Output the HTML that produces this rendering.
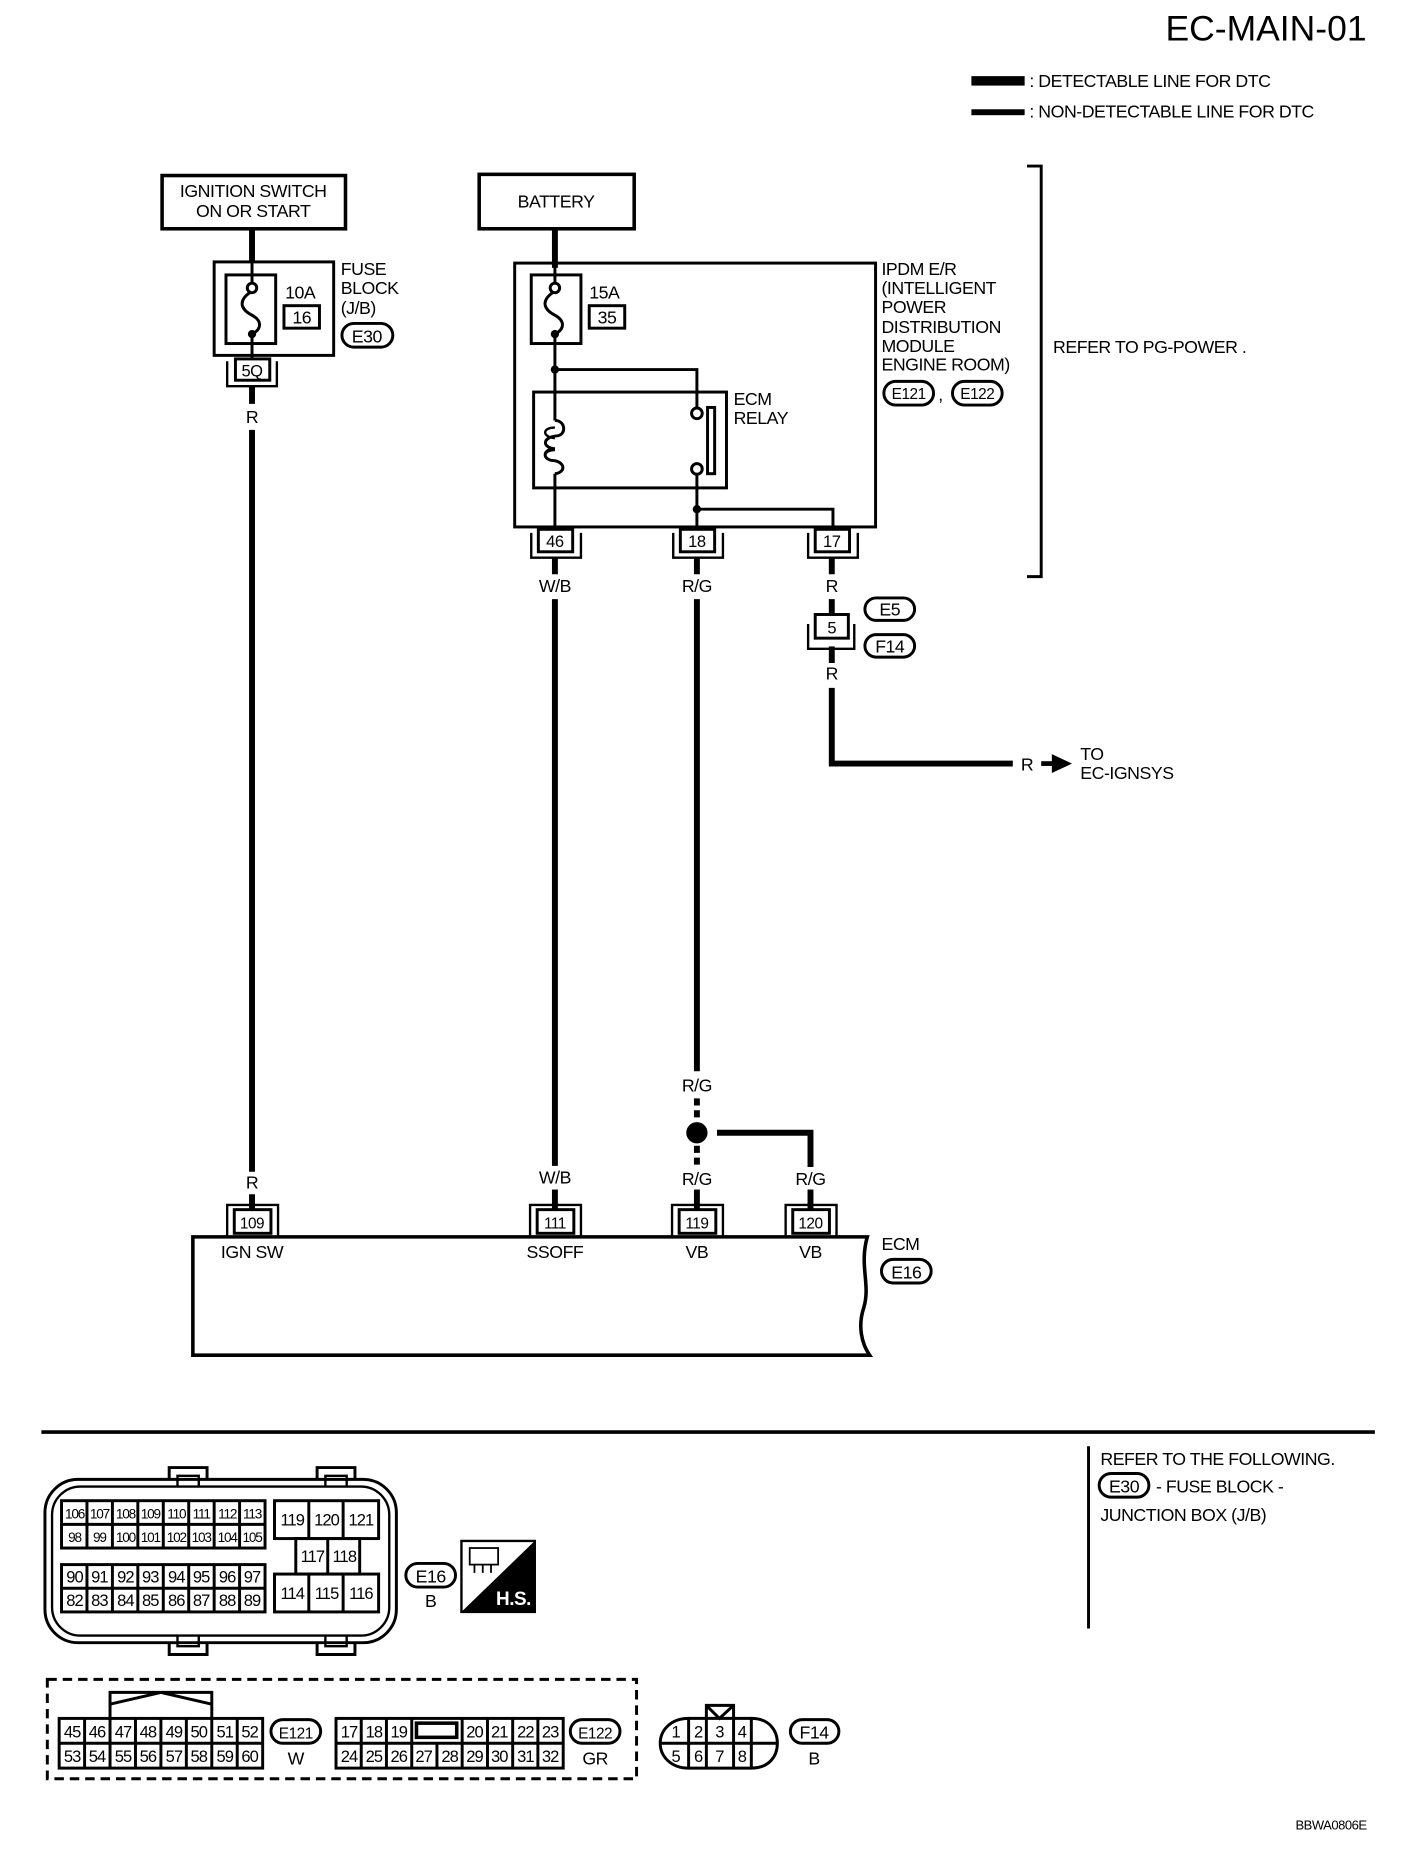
<!DOCTYPE html>
<html><head><meta charset="utf-8"><style>
html,body{margin:0;padding:0;background:#fff}
svg{display:block}
text{font-family:"Liberation Sans",sans-serif;fill:#000}
</style></head><body>
<svg width="1408" height="1862" viewBox="0 0 1190 1573" xmlns="http://www.w3.org/2000/svg">
<rect width="1190" height="1573" fill="#fff"/>
<g font-size="15" letter-spacing="-0.4">
<text x="1155" y="34" font-size="30" text-anchor="end" letter-spacing="0">EC-MAIN-01</text>
<rect x="821" y="64" width="45" height="8"/>
<text x="870" y="73">: DETECTABLE LINE FOR DTC</text>
<rect x="821" y="92" width="45" height="5"/>
<text x="870" y="99">: NON-DETECTABLE LINE FOR DTC</text>
<path d="M868 140H880V487H868" fill="none" stroke="#000" stroke-width="2.5"/>
<text x="890" y="298">REFER TO  PG-POWER .</text>

<!-- ignition -->
<rect x="137" y="148" width="155" height="45" fill="none" stroke="#000" stroke-width="3"/>
<text x="214" y="166" text-anchor="middle">IGNITION SWITCH</text>
<text x="214" y="183" text-anchor="middle">ON OR START</text>
<line x1="213" y1="193" x2="213" y2="222" stroke="#000" stroke-width="5"/>
<rect x="181" y="221" width="101" height="79" fill="none" stroke="#000" stroke-width="2.5"/>
<rect x="191" y="232" width="42" height="58" fill="none" stroke="#000" stroke-width="2.5"/>
<line x1="213" y1="222" x2="213" y2="239" stroke="#000" stroke-width="2.5"/>
<circle cx="213" cy="243" r="4" fill="#fff" stroke="#000" stroke-width="2.5"/>
<path d="M211 247C200 255 205 262 213 266C222 271 221 278 213 282" fill="none" stroke="#000" stroke-width="2.5"/>
<circle cx="213" cy="282" r="3.5"/>
<line x1="213" y1="282" x2="213" y2="303" stroke="#000" stroke-width="2.5"/>
<text x="241" y="252">10A</text>
<rect x="240" y="258" width="30" height="19" fill="none" stroke="#000" stroke-width="2.5"/>
<text x="255" y="273" text-anchor="middle">16</text>
<text x="288" y="232">FUSE</text><text x="288" y="248">BLOCK</text><text x="288" y="265">(J/B)</text>
<rect x="289" y="273" width="43" height="20" rx="10" fill="none" stroke="#000" stroke-width="2.5"/>
<text x="310" y="289" text-anchor="middle">E30</text>
<rect x="199" y="303" width="29" height="18" fill="none" stroke="#000" stroke-width="2.5"/>
<text x="213" y="318" text-anchor="middle" font-size="14">5Q</text>
<path d="M192 305V326H234V305" fill="none" stroke="#000" stroke-width="2"/>
<line x1="213" y1="326" x2="213" y2="341" stroke="#000" stroke-width="5"/>
<text x="213" y="357" text-anchor="middle">R</text>
<line x1="213" y1="363" x2="213" y2="990" stroke="#000" stroke-width="5"/>
<text x="213" y="1004" text-anchor="middle">R</text>
<line x1="213" y1="1009" x2="213" y2="1022" stroke="#000" stroke-width="5"/>

<!-- battery / IPDM -->
<rect x="405" y="147" width="131" height="46" fill="none" stroke="#000" stroke-width="3"/>
<text x="470" y="175" text-anchor="middle">BATTERY</text>
<line x1="469" y1="193" x2="469" y2="226" stroke="#000" stroke-width="5"/>
<rect x="435" y="222" width="305" height="223" fill="none" stroke="#000" stroke-width="2.5"/>
<rect x="449" y="232" width="42" height="58" fill="none" stroke="#000" stroke-width="2.5"/>
<line x1="469" y1="222" x2="469" y2="239" stroke="#000" stroke-width="2.5"/>
<circle cx="469" cy="243" r="4" fill="#fff" stroke="#000" stroke-width="2.5"/>
<path d="M467 247C456 255 461 262 469 266C478 271 477 278 469 282" fill="none" stroke="#000" stroke-width="2.5"/>
<circle cx="469" cy="282" r="3.5"/>
<text x="498" y="252">15A</text>
<rect x="498" y="258" width="30" height="19" fill="none" stroke="#000" stroke-width="2.5"/>
<text x="513" y="273" text-anchor="middle">35</text>
<line x1="469" y1="282" x2="469" y2="355" stroke="#000" stroke-width="2.5"/>
<circle cx="469" cy="312" r="3.5"/>
<path d="M469 312H589V345" fill="none" stroke="#000" stroke-width="2.5"/>
<rect x="451" y="331" width="163" height="81" fill="none" stroke="#000" stroke-width="2.5"/>
<path d="M469 355C478 355 479 367 471 368C458 369 458 378 469 379C458 379 458 389 469 389C478 391 478 399 469 400" fill="none" stroke="#000" stroke-width="2.5"/>
<path d="M469 361C458 361 458 369 469 370M469 380C458 380 458 389 469 389" fill="none" stroke="#000" stroke-width="2"/>
<line x1="469" y1="400" x2="469" y2="447" stroke="#000" stroke-width="2.5"/>
<circle cx="589" cy="349" r="4.5" fill="#fff" stroke="#000" stroke-width="2.5"/>
<circle cx="589" cy="396" r="4.5" fill="#fff" stroke="#000" stroke-width="2.5"/>
<rect x="598" y="344" width="6" height="56" fill="none" stroke="#000" stroke-width="2.5"/>
<line x1="589" y1="401" x2="589" y2="447" stroke="#000" stroke-width="2.5"/>
<circle cx="589" cy="430" r="3.5"/>
<path d="M589 430H704V447" fill="none" stroke="#000" stroke-width="2.5"/>
<text x="620" y="342">ECM</text><text x="620" y="358">RELAY</text>
<text x="745" y="232">IPDM E/R</text><text x="745" y="248">(INTELLIGENT</text><text x="745" y="264">POWER</text>
<text x="745" y="281">DISTRIBUTION</text><text x="745" y="297">MODULE</text><text x="745" y="313">ENGINE ROOM)</text>
<rect x="747" y="322" width="42" height="20" rx="10" fill="none" stroke="#000" stroke-width="2.5"/>
<text x="768" y="337" text-anchor="middle" font-size="13">E121</text>
<text x="793" y="338">,</text>
<rect x="805" y="322" width="42" height="20" rx="10" fill="none" stroke="#000" stroke-width="2.5"/>
<text x="826" y="337" text-anchor="middle" font-size="13">E122</text>

<g stroke="#000" fill="none" stroke-width="2.5">
<rect x="455" y="447" width="29" height="19"/><path d="M449 450V471H491V450" stroke-width="2"/>
<rect x="575" y="447" width="29" height="19"/><path d="M569 450V471H611V450" stroke-width="2"/>
<rect x="689" y="447" width="29" height="19"/><path d="M683 450V471H725V450" stroke-width="2"/>
</g>
<text x="469" y="462" text-anchor="middle" font-size="14">46</text>
<text x="589" y="462" text-anchor="middle" font-size="14">18</text>
<text x="703" y="462" text-anchor="middle" font-size="14">17</text>
<g stroke="#000" stroke-width="5">
<line x1="469" y1="471" x2="469" y2="485"/><line x1="589" y1="471" x2="589" y2="485"/><line x1="703" y1="471" x2="703" y2="485"/>
<line x1="469" y1="506" x2="469" y2="985"/>
<line x1="589" y1="506" x2="589" y2="905"/>
<line x1="589" y1="928" x2="589" y2="945" stroke-dasharray="6 4"/>
<line x1="589" y1="968" x2="589" y2="986" stroke-dasharray="6 4"/>
<path d="M606 957H685V986" fill="none"/>
<line x1="469" y1="1005" x2="469" y2="1022"/><line x1="589" y1="1005" x2="589" y2="1022"/><line x1="685" y1="1005" x2="685" y2="1022"/>
<line x1="703" y1="506" x2="703" y2="520"/>
<line x1="703" y1="546" x2="703" y2="560"/>
<path d="M703 581V645H856" fill="none"/>
<line x1="880" y1="645" x2="890" y2="645" stroke-width="4"/>
</g>
<circle cx="589" cy="957" r="9"/>
<path d="M889 637L906 645L889 653Z"/>
<text x="469" y="500" text-anchor="middle">W/B</text>
<text x="589" y="500" text-anchor="middle">R/G</text>
<text x="703" y="500" text-anchor="middle">R</text>
<rect x="689" y="519" width="28" height="20" fill="#fff" stroke="#000" stroke-width="2.5"/>
<text x="703" y="535" text-anchor="middle" font-size="14">5</text>
<path d="M683 527V548H722V527" fill="none" stroke="#000" stroke-width="2"/>
<rect x="731" y="505" width="42" height="19" rx="9.5" fill="none" stroke="#000" stroke-width="2.5"/>
<text x="752" y="520" text-anchor="middle">E5</text>
<rect x="731" y="536" width="42" height="19" rx="9.5" fill="none" stroke="#000" stroke-width="2.5"/>
<text x="752" y="551" text-anchor="middle">F14</text>
<text x="703" y="574" text-anchor="middle">R</text>
<text x="868" y="651" text-anchor="middle">R</text>
<text x="913" y="642">TO</text><text x="913" y="658">EC-IGNSYS</text>
<text x="589" y="922" text-anchor="middle">R/G</text>
<text x="469" y="1000" text-anchor="middle">W/B</text>
<text x="589" y="1001" text-anchor="middle">R/G</text>
<text x="685" y="1001" text-anchor="middle">R/G</text>

<!-- ECM -->
<g stroke="#000" fill="none" stroke-width="2.5">
<rect x="198" y="1022" width="31" height="20"/><path d="M192 1044V1018H235V1044" stroke-width="2"/>
<rect x="454" y="1022" width="31" height="20"/><path d="M448 1044V1018H491V1044" stroke-width="2"/>
<rect x="574" y="1022" width="31" height="20"/><path d="M568 1044V1018H611V1044" stroke-width="2"/>
<rect x="670" y="1022" width="31" height="20"/><path d="M664 1044V1018H707V1044" stroke-width="2"/>
<path d="M163 1045H733C726 1070 736 1085 730 1105C725 1120 728 1135 735 1145H163Z" stroke-width="3"/>
</g>
<g font-size="13" text-anchor="middle">
<text x="213" y="1038">109</text><text x="469" y="1038">111</text><text x="589" y="1038">119</text><text x="685" y="1038">120</text>
</g>
<g text-anchor="middle">
<text x="213" y="1063">IGN SW</text><text x="469" y="1063">SSOFF</text><text x="589" y="1063">VB</text><text x="685" y="1063">VB</text>
</g>
<text x="745" y="1056">ECM</text>
<rect x="745" y="1064" width="42" height="20" rx="10" fill="none" stroke="#000" stroke-width="2.5"/>
<text x="766" y="1080" text-anchor="middle">E16</text>

<!-- divider -->
<line x1="35" y1="1210" x2="1162" y2="1210" stroke="#000" stroke-width="3"/>
<line x1="920" y1="1222" x2="920" y2="1376" stroke="#000" stroke-width="2.5"/>
<text x="930" y="1238">REFER TO THE FOLLOWING.</text>
<rect x="929" y="1245" width="42" height="20" rx="10" fill="none" stroke="#000" stroke-width="2.5"/>
<text x="950" y="1261" text-anchor="middle">E30</text>
<text x="977" y="1261">- FUSE BLOCK -</text>
<text x="930" y="1285">JUNCTION BOX (J/B)</text>

<!-- E16 connector -->
<g stroke="#000" fill="none" stroke-width="2.5">
<rect x="38" y="1250" width="297" height="138" rx="28"/>
<rect x="44" y="1256" width="285" height="126" rx="24" stroke-width="2"/>
<path d="M143 1250V1240H175V1250M268 1250V1240H300V1250M143 1388V1398H175V1388M268 1388V1398H300V1388"/>
<path d="M150 1256V1247H168V1256M275 1256V1247H293V1256M150 1382V1391H168V1382M275 1382V1391H293V1382" stroke-width="2"/>
<rect x="52" y="1268" width="172" height="40"/>
<rect x="52" y="1322" width="172" height="40"/>
<path d="M52 1288H224M52 1342H224"/>
<path d="M73.5 1268V1308M95 1268V1308M116.5 1268V1308M138 1268V1308M159.5 1268V1308M181 1268V1308M202.5 1268V1308"/>
<path d="M73.5 1322V1362M95 1322V1362M116.5 1322V1362M138 1322V1362M159.5 1322V1362M181 1322V1362M202.5 1322V1362"/>
<rect x="232" y="1268" width="88" height="32"/>
<path d="M261 1268V1300M290 1268V1300"/>
<rect x="250" y="1300" width="54" height="30"/><path d="M277 1300V1330"/>
<rect x="232" y="1330" width="88" height="32"/>
<path d="M261 1330V1362M290 1330V1362"/>
</g>
<g font-size="11.5" text-anchor="middle" letter-spacing="-1">
<text x="63" y="1283">106</text><text x="84" y="1283">107</text><text x="106" y="1283">108</text><text x="127" y="1283">109</text><text x="149" y="1283">110</text><text x="170" y="1283">111</text><text x="192" y="1283">112</text><text x="213" y="1283">113</text>
<text x="63" y="1303">98</text><text x="84" y="1303">99</text><text x="106" y="1303">100</text><text x="127" y="1303">101</text><text x="149" y="1303">102</text><text x="170" y="1303">103</text><text x="192" y="1303">104</text><text x="213" y="1303">105</text>
</g>
<g font-size="14" text-anchor="middle" letter-spacing="-0.8">
<text x="63" y="1337">90</text><text x="84" y="1337">91</text><text x="106" y="1337">92</text><text x="127" y="1337">93</text><text x="149" y="1337">94</text><text x="170" y="1337">95</text><text x="192" y="1337">96</text><text x="213" y="1337">97</text>
<text x="63" y="1357">82</text><text x="84" y="1357">83</text><text x="106" y="1357">84</text><text x="127" y="1357">85</text><text x="149" y="1357">86</text><text x="170" y="1357">87</text><text x="192" y="1357">88</text><text x="213" y="1357">89</text>
<text x="247" y="1289">119</text><text x="276" y="1289">120</text><text x="305" y="1289">121</text>
<text x="264" y="1320">117</text><text x="291" y="1320">118</text>
<text x="247" y="1351">114</text><text x="276" y="1351">115</text><text x="305" y="1351">116</text>
</g>
<rect x="343" y="1321" width="42" height="20" rx="10" fill="none" stroke="#000" stroke-width="2.5"/>
<text x="364" y="1337" text-anchor="middle">E16</text>
<text x="364" y="1358" text-anchor="middle">B</text>
<rect x="390" y="1302" width="62" height="60" fill="#fff" stroke="#000" stroke-width="2"/>
<path d="M452 1302V1362H390Z"/>
<rect x="397" y="1308" width="24" height="14" fill="none" stroke="#000" stroke-width="1.5"/>
<path d="M401 1322V1329M408 1322V1329M415 1322V1329" stroke="#000" stroke-width="1.5"/>
<text x="434" y="1356" text-anchor="middle" font-size="16" font-weight="bold" style="fill:#fff">H.S.</text>

<!-- dashed box -->
<rect x="40" y="1419" width="498" height="84" fill="none" stroke="#000" stroke-width="2.5" stroke-dasharray="8 5"/>
<g stroke="#000" fill="none" stroke-width="2.5">
<rect x="50" y="1452" width="172" height="42"/>
<path d="M50 1473H222"/>
<path d="M71.5 1452V1494M93 1452V1494M114.5 1452V1494M136 1452V1494M157.5 1452V1494M179 1452V1494M200.5 1452V1494"/>
<path d="M93 1452V1430H179V1452M93 1440L136 1430L179 1440"/>
<rect x="284" y="1452" width="192" height="42"/>
<path d="M284 1473H476"/>
<path d="M305.3 1452V1494M326.6 1452V1494M348 1452V1494M369.3 1473V1494M390.6 1452V1494M412 1452V1494M433.3 1452V1494M454.6 1452V1494"/>
<rect x="352" y="1456" width="34" height="12" stroke-width="3"/>
<path d="M558 1473H657M582 1452V1494M597 1452V1494M620 1452V1494M635 1452V1494"/>
<path d="M582 1452H635C650 1452 657 1462 657 1473C657 1484 650 1494 635 1494H582C567 1494 558 1484 558 1473C558 1462 567 1452 582 1452Z"/>
<path d="M597 1452V1441H620V1452M597 1441L608 1452L620 1441"/>
</g>
<g font-size="14" text-anchor="middle" letter-spacing="-0.8">
<text x="61" y="1468">45</text><text x="82" y="1468">46</text><text x="104" y="1468">47</text><text x="125" y="1468">48</text><text x="147" y="1468">49</text><text x="168" y="1468">50</text><text x="190" y="1468">51</text><text x="211" y="1468">52</text>
<text x="61" y="1489">53</text><text x="82" y="1489">54</text><text x="104" y="1489">55</text><text x="125" y="1489">56</text><text x="147" y="1489">57</text><text x="168" y="1489">58</text><text x="190" y="1489">59</text><text x="211" y="1489">60</text>
<text x="295" y="1468">17</text><text x="316" y="1468">18</text><text x="337" y="1468">19</text><text x="401" y="1468">20</text><text x="422" y="1468">21</text><text x="444" y="1468">22</text><text x="465" y="1468">23</text>
<text x="295" y="1489">24</text><text x="316" y="1489">25</text><text x="337" y="1489">26</text><text x="358" y="1489">27</text><text x="380" y="1489">28</text><text x="401" y="1489">29</text><text x="422" y="1489">30</text><text x="444" y="1489">31</text><text x="465" y="1489">32</text>
<text x="571" y="1468">1</text><text x="590" y="1468">2</text><text x="608" y="1468">3</text><text x="627" y="1468">4</text>
<text x="571" y="1489">5</text><text x="590" y="1489">6</text><text x="608" y="1489">7</text><text x="627" y="1489">8</text>
</g>
<rect x="229" y="1453" width="42" height="20" rx="10" fill="none" stroke="#000" stroke-width="2.5"/>
<text x="250" y="1469" text-anchor="middle" font-size="13">E121</text>
<text x="250" y="1491" text-anchor="middle">W</text>
<rect x="482" y="1453" width="42" height="20" rx="10" fill="none" stroke="#000" stroke-width="2.5"/>
<text x="503" y="1469" text-anchor="middle" font-size="13">E122</text>
<text x="503" y="1491" text-anchor="middle">GR</text>
<rect x="668" y="1453" width="41" height="20" rx="10" fill="none" stroke="#000" stroke-width="2.5"/>
<text x="688" y="1469" text-anchor="middle">F14</text>
<text x="688" y="1491" text-anchor="middle">B</text>

<text x="1155" y="1546" text-anchor="end" font-size="11">BBWA0806E</text>
</g>
</svg>
</body></html>
